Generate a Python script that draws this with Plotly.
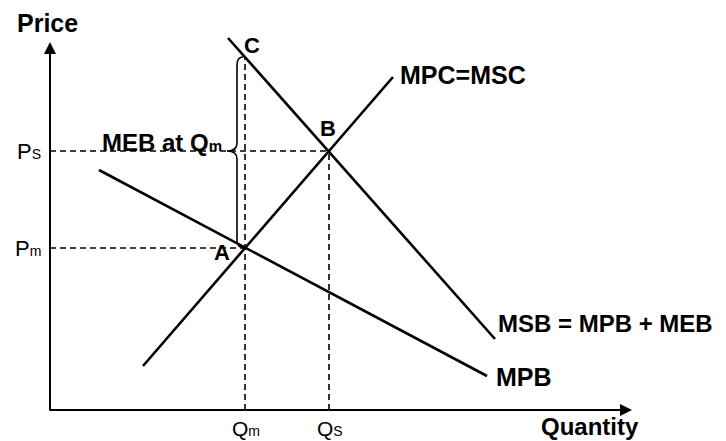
import plotly.graph_objects as go

# ---- data (Quantity, Price) in diagram units ----
mpc_q = [9.3, 34.3]
mpc_p = [4.4, 33.3]
msb_q = [17.8, 44.5]
msb_p = [37.2, 7.1]
mpb_q = [4.9, 43.7]
mpb_p = [24.0, 3.4]

point_names = ["A", "B", "C"]
point_q = [19.5, 27.9, 19.5]
point_p = [16.2, 25.9, 35.3]

q_tick_vals = [19.5, 27.9]
q_tick_text = ["Q<span style='font-size:14px'>m</span>", "Q<span style='font-size:14px'>S</span>"]
p_tick_vals = [16.2, 25.9]
p_tick_text = ["P<span style='font-size:14px'>m</span>", "P<span style='font-size:14px'>S</span>"]

curve_names = ["MPC=MSC", "MSB = MPB + MEB", "MPB"]
axis_max_q = 58.2
axis_max_p = 36.8

FONT = "Liberation Sans, Arial, sans-serif"
BLACK = "#000000"

Qm, Qs = q_tick_vals
Pm, Ps = p_tick_vals
Aq, Bq, Cq = point_q
Ap, Bp, Cp = point_p

fig = go.Figure()

line_style = dict(color=BLACK, width=2.6)
for q, p in [(mpc_q, mpc_p), (msb_q, msb_p), (mpb_q, mpb_p)]:
    fig.add_trace(go.Scatter(x=q, y=p, mode="lines", line=line_style,
                             hoverinfo="skip", showlegend=False))

dash_style = dict(color=BLACK, width=1.6, dash="6px,4px")
fig.add_trace(go.Scatter(x=[0, Bq], y=[Ps, Ps], mode="lines", line=dash_style, showlegend=False, hoverinfo="skip"))
fig.add_trace(go.Scatter(x=[0, Aq], y=[Pm, Pm], mode="lines", line=dash_style, showlegend=False, hoverinfo="skip"))
fig.add_trace(go.Scatter(x=[Qm, Qm], y=[0, Cp], mode="lines", line=dash_style, showlegend=False, hoverinfo="skip"))
fig.add_trace(go.Scatter(x=[Qs, Qs], y=[0, Bp], mode="lines", line=dash_style, showlegend=False, hoverinfo="skip"))

# curly brace between C and A
xb = Qm - 0.8
tip = Qm - 1.8
top, bot, mid = Cp, Ap, Ps
r = 0.8
path = (f"M {Qm - 0.2},{top} Q {xb},{top} {xb},{top - r} L {xb},{mid + r} "
        f"Q {xb},{mid} {tip},{mid} Q {xb},{mid} {xb},{mid - r} "
        f"L {xb},{bot + r} Q {xb},{bot} {Qm},{bot}")
fig.add_shape(type="path", path=path, xref="x", yref="y",
              line=dict(color=BLACK, width=1.6))

annotations = []
annotations.append(dict(x=axis_max_q, y=0, ax=-0.2, ay=0, xref="x", yref="y", axref="x", ayref="y",
                        showarrow=True, arrowhead=2, arrowwidth=2, arrowsize=1.2, arrowcolor=BLACK, text=""))
annotations.append(dict(x=0, y=axis_max_p, ax=0, ay=-0.2, xref="x", yref="y", axref="x", ayref="y",
                        showarrow=True, arrowhead=2, arrowwidth=2, arrowsize=1.2, arrowcolor=BLACK, text=""))

bold = dict(family=FONT, size=25, color=BLACK)
norm = dict(family=FONT, size=21, color=BLACK)
pt = dict(family=FONT, size=22, color=BLACK)

def label(x, y, text, font, xa="center", ya="middle"):
    annotations.append(dict(x=x, y=y, xref="x", yref="y", text=text, showarrow=False,
                            font=font, xanchor=xa, yanchor=ya, borderpad=0))

label(-0.3, 38.7, "<b>Price</b>", bold)
label(54.0, -3.05, "<b>Quantity</b>", dict(family=FONT, size=24, color=BLACK), ya="bottom")
for v, t in zip(q_tick_vals, q_tick_text):
    label(v + 0.1, -3.05, t, norm, ya="bottom")
for v, t in zip(p_tick_vals, p_tick_text):
    label(-0.8, v, t, dict(family=FONT, size=22, color=BLACK), xa="right")

label(Aq - 2.3, Ap - 0.4, "<b>A</b>", pt)
label(Bq - 0.1, Bp + 2.3, "<b>B</b>", pt)
label(Cq + 0.7, Cp + 1.2, "<b>C</b>", pt)

label(mpc_q[1] + 0.6, mpc_p[1] + 0.2, "<b>" + curve_names[0] + "</b>", bold, xa="left")
label(msb_q[1] + 0.2, msb_p[1] + 1.6, "<b>" + curve_names[1] + "</b>",
      dict(family=FONT, size=24, color=BLACK), xa="left")
label(mpb_q[1] + 0.8, mpb_p[1] - 0.1, "<b>" + curve_names[2] + "</b>", bold, xa="left")

label(Qm - 2.2, Ps + 0.9, "<b>MEB at Q<span style='font-size:15px'>m</span></b>",
      dict(family=FONT, size=24, color=BLACK), xa="right")

# page body has an 8px margin: figure covers page pixels 8..726 x 8..441
fig.update_layout(
    width=718, height=433,
    margin=dict(l=0, r=0, t=0, b=0),
    paper_bgcolor="white", plot_bgcolor="white",
    xaxis=dict(range=[-4.2, 67.6], visible=False, fixedrange=True),
    yaxis=dict(range=[-3.1, 40.2], visible=False, fixedrange=True),
    annotations=annotations,
    showlegend=False,
)

fig.write_html("out.html", config={"displayModeBar": False})
